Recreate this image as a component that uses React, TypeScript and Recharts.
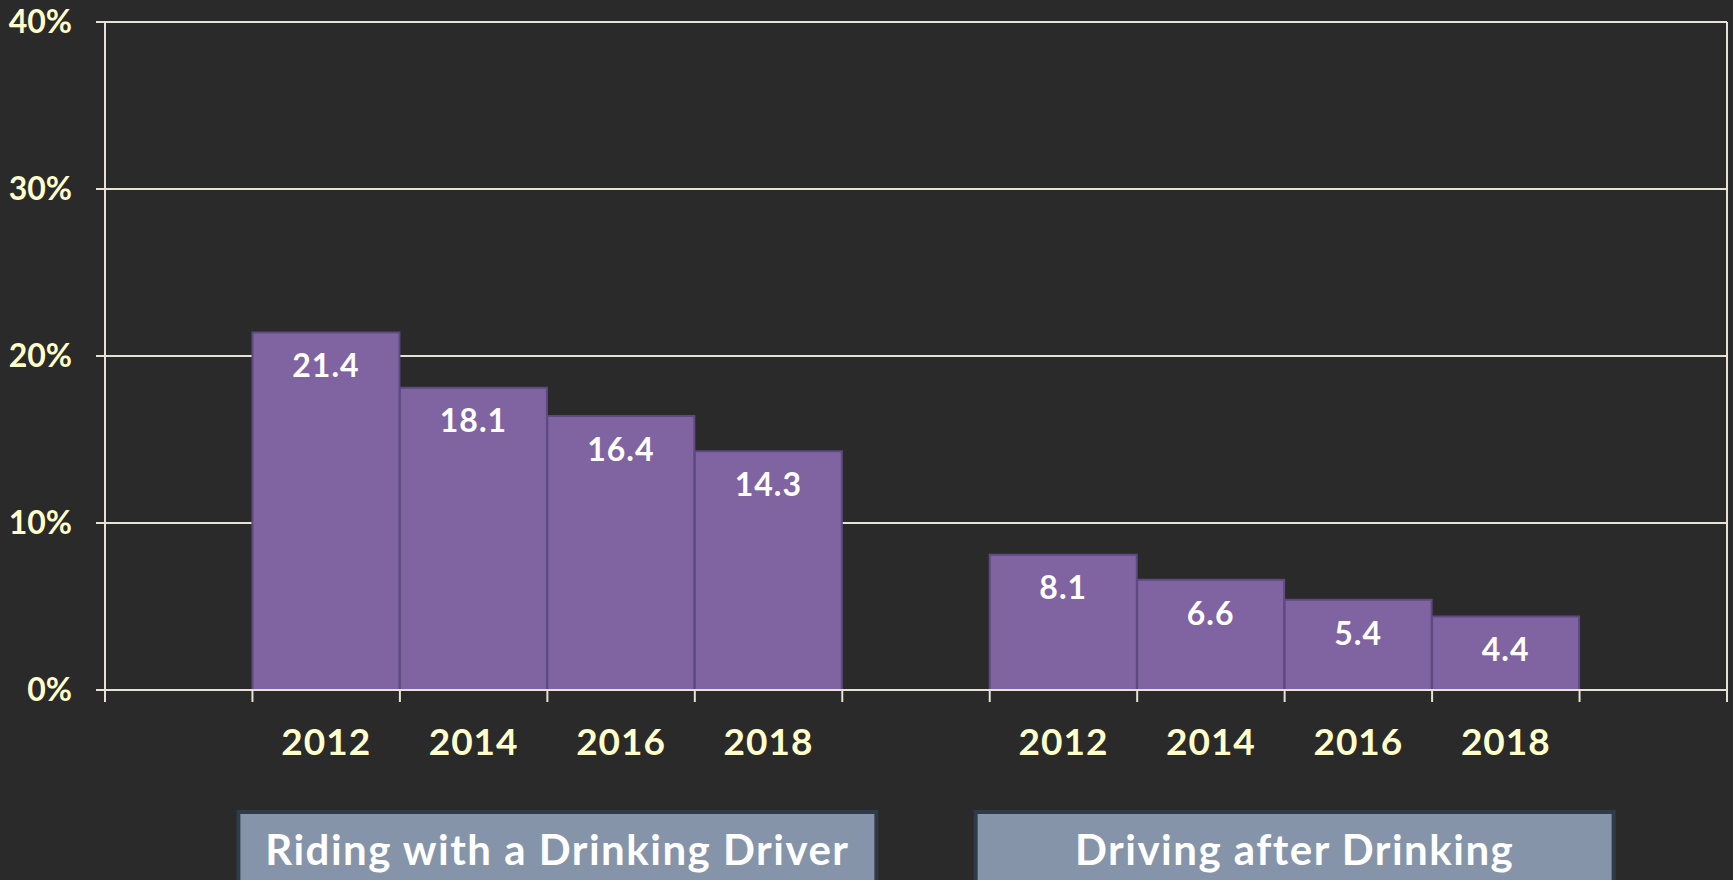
import { BarChart, Bar, XAxis, YAxis, CartesianGrid, LabelList } from "recharts"

const years = ["2012", "2014", "2016", "2018"]
const ridingValues = [21.4, 18.1, 16.4, 14.3]
const drivingValues = [8.1, 6.6, 5.4, 4.4]
const groupLabels = ["Riding with a Drinking Driver", "Driving after Drinking"]
const yTicks = [0, 10, 20, 30, 40]

type Row = { year: string; value: number | null; box?: string }

const spacer = (): Row => ({ year: "", value: null })

// build the category list: gap, group 1, gap, group 2, gap
const rows: Row[] = [
  spacer(),
  ...years.map((year, i) => ({ year, value: ridingValues[i], box: i === 1 ? groupLabels[0] : undefined })),
  spacer(),
  ...years.map((year, i) => ({ year, value: drivingValues[i], box: i === 1 ? groupLabels[1] : undefined })),
  spacer(),
]

const colors = {
  bg: "#2a2a2a",
  line: "#e6e2d4",
  tickText: "#ffffcc",
  bar: "#8064a2",
  barEdge: "#5e4a80",
  boxFill: "#8594a8",
  boxEdge: "#2e3b48",
}

const font = "Lato, 'Open Sans', sans-serif"

function YearTick(props: any) {
  const { x, y, payload, index } = props
  const half = payload.offset ?? 0
  const row = rows[index]
  const isLast = index === rows.length - 1
  return (
    <g>
      <line x1={x - half} x2={x - half} y1={y} y2={y + 12} stroke={colors.line} strokeWidth={2} />
      {isLast && <line x1={x + half} x2={x + half} y1={y} y2={y + 12} stroke={colors.line} strokeWidth={2} />}
      <text
        x={x}
        y={y + 50}
        textAnchor="middle"
        dominantBaseline="central"
        fill={colors.tickText}
        fontSize={37}
        fontWeight="bold"
        fontFamily={font}
        letterSpacing={1}
      >
        {payload.value}
      </text>
      {row && row.box && (
        <g>
          <rect
            x={x + half + 10 - 319}
            y={y + 122}
            width={638}
            height={90}
            fill={colors.boxFill}
            stroke={colors.boxEdge}
            strokeWidth={4}
          />
          <text
            x={x + half + 10}
            y={y + 159}
            textAnchor="middle"
            dominantBaseline="central"
            fill="#ffffff"
            fontSize={42}
            fontWeight="bold"
            fontFamily={font}
            letterSpacing={1.5}
          >
            {row.box}
          </text>
        </g>
      )}
    </g>
  )
}

export default function App() {
  return (
    <div style={{ position: "fixed", left: 0, top: 0, width: 1733, height: 880, background: colors.bg }}>
      <BarChart
        width={1733}
        height={880}
        data={rows}
        barCategoryGap={0}
        margin={{ top: 22, right: 6, bottom: 0, left: 0 }}
      >
        <CartesianGrid
          stroke={colors.line}
          strokeWidth={2}
          verticalCoordinatesGenerator={({ offset }: any) => [offset.left + offset.width]}
        />
        <XAxis
          dataKey="year"
          height={190}
          interval={0}
          tickSize={0}
          tickMargin={0}
          tickLine={false}
          axisLine={{ stroke: colors.line, strokeWidth: 2 }}
          tick={<YearTick />}
        />
        <YAxis
          width={105}
          domain={[0, 40]}
          ticks={yTicks}
          tickFormatter={(v: number) => `${v}%`}
          tickSize={9}
          tickMargin={24}
          tickLine={{ stroke: colors.line, strokeWidth: 2 }}
          axisLine={{ stroke: colors.line, strokeWidth: 2 }}
          tick={{ fill: colors.tickText, fontSize: 32, fontWeight: "bold", fontFamily: font }}
        />
        <Bar dataKey="value" fill={colors.bar} stroke={colors.barEdge} strokeWidth={2} isAnimationActive={false}>
          <LabelList
            dataKey="value"
            position="insideTop"
            offset={22}
            fill="#ffffff"
            fontSize={32}
            fontWeight="bold"
            fontFamily={font}
            letterSpacing={1}
          />
        </Bar>
      </BarChart>
    </div>
  )
}
